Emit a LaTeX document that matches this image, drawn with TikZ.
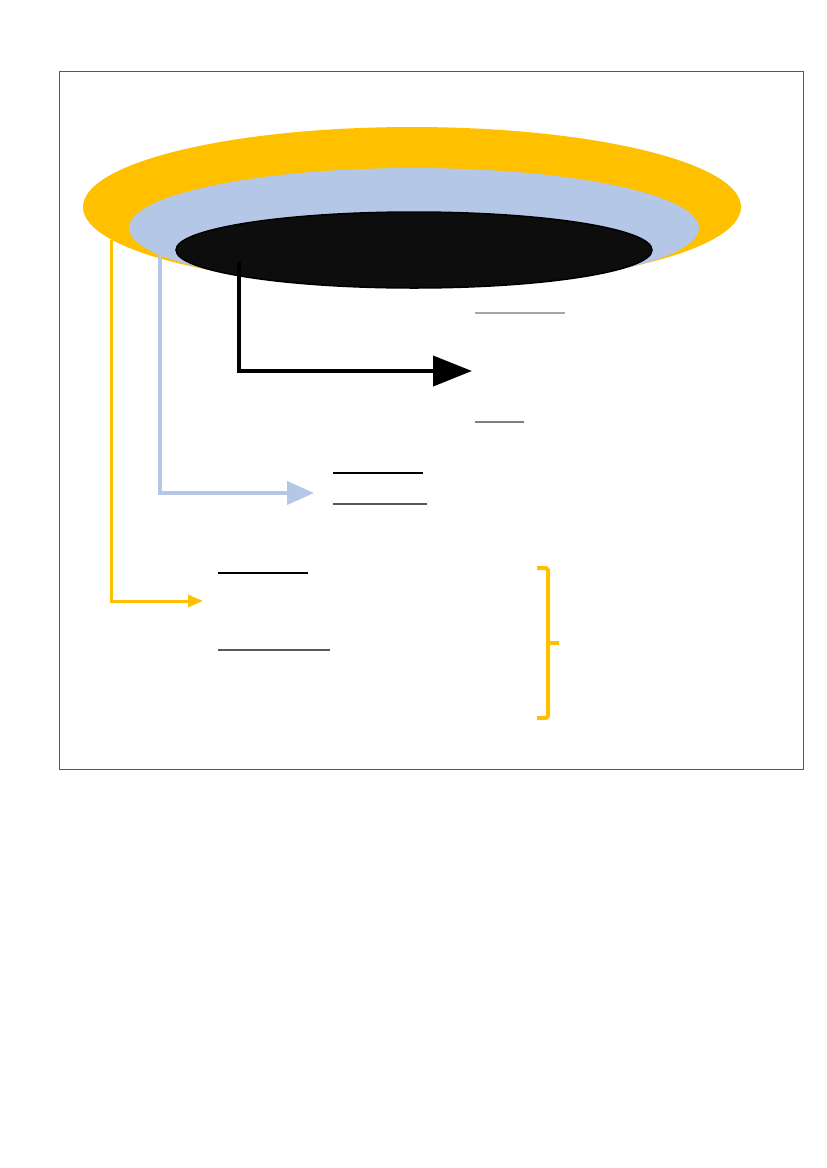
\documentclass[tikz,border=0pt]{standalone}
\usetikzlibrary{shapes.geometric,arrows.meta}
\definecolor{goldY}{HTML}{FFC000}
\definecolor{paleB}{HTML}{B4C7E7}
\definecolor{nearK}{HTML}{0D0D0D}
\definecolor{ulgrayA}{HTML}{A6A6A6}
\definecolor{ulgrayB}{HTML}{7F7F7F}
\definecolor{ulgrayC}{HTML}{595959}
\tikzset{
  ring/.style={ellipse, inner sep=0pt, draw=none},
  yline/.style={draw=goldY, line width=3pt, -{Triangle[length=15pt,width=12pt]}},
  bline/.style={draw=paleB, line width=4pt, -{Triangle[length=27pt,width=23pt]}},
  kline/.style={draw=black, line width=4pt, -{Triangle[length=39pt,width=30pt]}},
  uline/.style={line width=1.3pt},
  bracketline/.style={draw=goldY, line width=4pt, line cap=butt, line join=round},
  framebox/.style={draw=ulgrayC, line width=1pt}
}
\begin{document}
\begin{tikzpicture}[x=1pt,y=-1pt]
\useasboundingbox (0,0) rectangle (827,1168);
\draw[framebox] (59,71) rectangle (803,769);
% nested ellipses
\node[ring, fill=goldY, minimum width=658pt, minimum height=160pt] (yellowE) at (412,207) {};
\node[ring, fill=paleB, minimum width=570pt, minimum height=120pt] (blueE) at (414,228) {};
\node[ring, fill=nearK, draw=black, line width=1.5pt, minimum width=476pt, minimum height=76pt] (blackE) at (414,250) {};
% start and end coordinates
\coordinate (ys) at (111,240);
\coordinate (yt) at (203,601);
\coordinate (bs) at (160,253);
\coordinate (bt) at (314,493);
\coordinate (ks) at (239,262);
\coordinate (kt) at (472,371);
\draw[yline] (ys) |- (yt);
\draw[bline] (bs) |- (bt);
\draw[kline] (ks) |- (kt);
% underlines
\coordinate (u1a) at (475,313); \coordinate (u1b) at (565,313);
\coordinate (u2a) at (475,422); \coordinate (u2b) at (524,422);
\coordinate (u3a) at (333,473); \coordinate (u3b) at (423,473);
\coordinate (u4a) at (333,504); \coordinate (u4b) at (427,504);
\coordinate (u5a) at (218,573); \coordinate (u5b) at (308,573);
\coordinate (u6a) at (218,650); \coordinate (u6b) at (330,650);
\draw[uline, ulgrayA] (u1a) -- (u1b);
\draw[uline, ulgrayB] (u2a) -- (u2b);
\draw[uline, black] (u3a) -- (u3b);
\draw[uline, ulgrayC] (u4a) -- (u4b);
\draw[uline, black] (u5a) -- (u5b);
\draw[uline, ulgrayC] (u6a) -- (u6b);
% bracket
\coordinate (brt) at (537,568);
\coordinate (brb) at (537,718);
\coordinate (brm) at (559,643);
\draw[bracketline] (brt) -- (546,568) -- (548,570) -- (548,716) -- (546,718) -- (brb);
\draw[bracketline] (548,643) -- (brm);
\end{tikzpicture}
\end{document}
